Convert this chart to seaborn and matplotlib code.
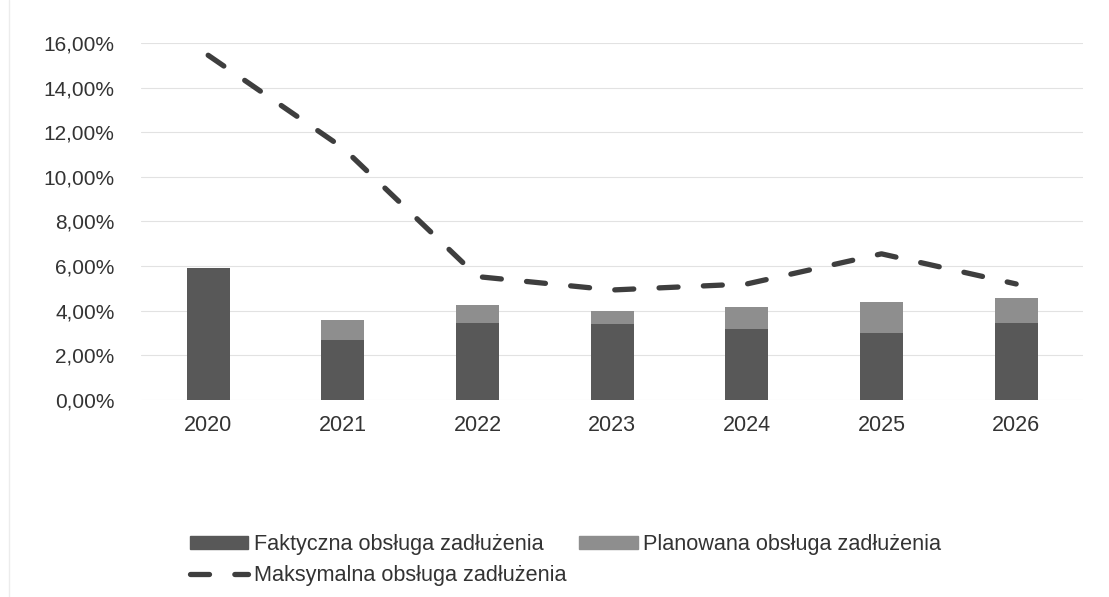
import numpy as np
import pandas as pd
import seaborn as sns
import matplotlib.pyplot as plt
from matplotlib.lines import Line2D
from matplotlib.patches import Patch
from matplotlib.ticker import FuncFormatter

# --- data (percent) ---
years = ['2020', '2021', '2022', '2023', '2024', '2025', '2026']
faktyczna = [5.92, 2.69, 3.47, 3.39, 3.17, 2.99, 3.47]
planowana = [0.00, 0.89, 0.79, 0.60, 1.01, 1.40, 1.12]
maksymalna = [15.45, 11.30, 5.53, 4.93, 5.20, 6.55, 5.20]

labels = ['Faktyczna obsługa zadłużenia', 'Planowana obsługa zadłużenia',
          'Maksymalna obsługa zadłużenia']

df = pd.DataFrame({'rok': years, 'faktyczna': faktyczna, 'planowana': planowana,
                   'maksymalna': maksymalna})
df['suma'] = df['faktyczna'] + df['planowana']

dark = '#585858'
light = '#8e8e8e'
line_col = '#3e3e3e'

sns.set_theme(style='white')
plt.rcParams['font.family'] = ['Liberation Sans', 'DejaVu Sans']

fig, ax = plt.subplots(figsize=(11.09, 5.97), dpi=100)
fig.subplots_adjust(left=0.127, right=0.977, top=0.928, bottom=0.33)

# stacked bars: total (light) first, actual (dark) on top
sns.barplot(data=df, x='rok', y='suma', color=light, width=0.32, saturation=1,
            linewidth=0, ax=ax, zorder=2)
sns.barplot(data=df, x='rok', y='faktyczna', color=dark, width=0.32, saturation=1,
            linewidth=0, ax=ax, zorder=3)

sns.lineplot(x=np.arange(len(years)), y=df['maksymalna'], color=line_col, lw=3.8,
             linestyle=(0, (3.6, 4.8)), dash_capstyle='round', ax=ax, zorder=4)

ax.set_ylim(0, 16)
ax.set_xlim(-0.5, len(years) - 0.5)
ax.set_yticks(np.arange(0, 17, 2))
ax.yaxis.set_major_formatter(FuncFormatter(lambda v, p: f'{v:.2f}%'.replace('.', ',')))
ax.grid(axis='y', color='#e2e2e2', lw=0.8, zorder=0)
ax.set_axisbelow(True)
for s in ax.spines.values():
    s.set_visible(False)
ax.set_xlabel('')
ax.set_ylabel('')
ax.tick_params(axis='y', length=0, pad=19, labelsize=15, labelcolor='#333333')
ax.tick_params(axis='x', length=0, pad=11, labelsize=15.5, labelcolor='#333333')

# faint frame line on the left
fig.add_artist(Line2D([0.008, 0.008], [0.0, 1.0], color='#ececec', lw=1))

handles = [Patch(color=dark), Line2D([], [], color=line_col, lw=3.8,
                                     linestyle=(0, (3.6, 4.8)), dash_capstyle='round'),
           Patch(color=light)]
fig.legend(handles, [labels[0], labels[2], labels[1]], ncol=2, frameon=False,
           loc='upper left', bbox_to_anchor=(0.171, 0.105),
           bbox_transform=fig.transFigure, fontsize=15.6, handlelength=2.7,
           handleheight=0.5, handletextpad=0.25, columnspacing=0.6,
           labelspacing=0.45, borderaxespad=0, borderpad=0,
           labelcolor='#333333')

fig.savefig('out.png', dpi=100, facecolor='white')
